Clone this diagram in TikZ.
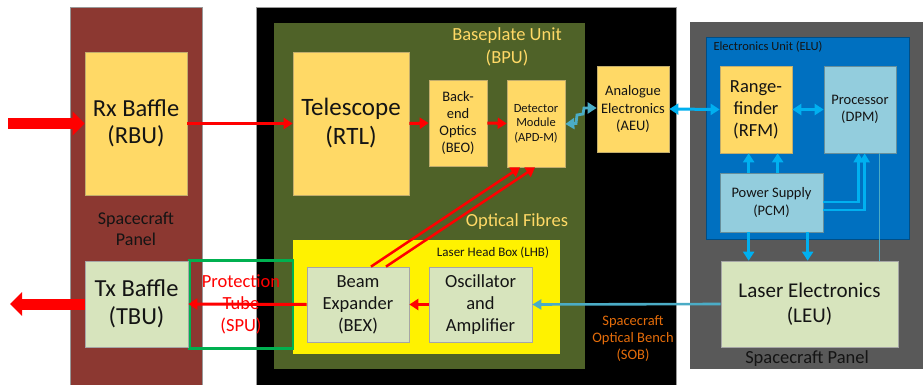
\documentclass[tikz,border=0pt]{standalone}
\usepackage{fontspec}
\setmainfont{Carlito}
\usetikzlibrary{arrows.meta,calc}
\definecolor{maroon}{RGB}{140,56,49}
\definecolor{olive}{RGB}{79,98,40}
\definecolor{gold}{RGB}{255,217,102}
\definecolor{lgreen}{RGB}{215,228,189}
\definecolor{lblue}{RGB}{147,205,221}
\definecolor{panelgray}{RGB}{89,89,89}
\definecolor{elublue}{RGB}{0,112,192}
\definecolor{sky}{RGB}{0,176,240}
\definecolor{teal}{RGB}{75,172,198}
\definecolor{orng}{RGB}{228,108,10}
\definecolor{grn}{RGB}{0,176,80}
\definecolor{txt}{RGB}{20,20,20}
\newcommand{\fs}[2]{\fontsize{#1}{#2}\selectfont}
\begin{document}
\begin{tikzpicture}[x=1pt,y=-1pt,
  box/.style={line width=0.7pt, align=center, inner sep=1pt, text=txt},
  gbox/.style={box, fill=gold, draw=gold!70!black!80},
  lbox/.style={box, fill=lgreen, draw=black!35},
  bbox/.style={box, fill=lblue, draw=lblue!70!black},
  redarr/.style={red, line width=3pt, -{Triangle[length=9pt,width=11pt]}},
  bigarr/.style={red, line width=11pt, -{Triangle[length=12pt,width=23pt]}},
  bluearr/.style={sky, line width=3pt, -{Triangle[length=9pt,width=11pt]}},
  dblarr/.style={sky, line width=3pt, {Triangle[length=9pt,width=11pt]}-{Triangle[length=9pt,width=11pt]}},
  lbl/.style={align=center, inner sep=0pt}]
\useasboundingbox (0,0) rectangle (923,385);
\fill[white] (0,0) rectangle (923,385);
% panels
\fill[maroon, draw=black!40, line width=0.6pt] (70,7) rectangle (202,386);
\fill[black, draw=black!40, line width=0.6pt] (256,7) rectangle (676,386);
\fill[olive] (274,23) rectangle (585,369);
\fill[yellow] (293,240) rectangle (560,354);
\fill[panelgray] (690,22) rectangle (923,369);
\fill[elublue, draw=elublue!70!black, line width=0.6pt] (706,37) rectangle (909,239);
% labels on panels
\node[lbl, text=txt, font=\fs{18}{21}] (scpl) at (136,229) {Spacecraft\\Panel};
\node[lbl, text=gold, font=\fs{18.5}{23}] (bpul) at (507,46.5) {Baseplate Unit\\(BPU)};
\node[lbl, text=gold, font=\fs{18.5}{22}] (ofl) at (517,222) {Optical Fibres};
\node[lbl, text=txt, font=\fs{13}{15}] (lhbl) at (493,253) {Laser Head Box (LHB)};
\node[lbl, text=orng, font=\fs{14.5}{17}] (sobl) at (633,339) {Spacecraft\\Optical Bench\\(SOB)};
\node[lbl, text=txt, font=\fs{12.5}{14}] (elul) at (768,47) {Electronics Unit (ELU)};
\node[lbl, text=txt, font=\fs{18.5}{22}] (scpr) at (807,359) {Spacecraft Panel};
\node[lbl, text=red, font=\fs{18.5}{22}] (spul) at (241,304) {Protection\\Tube\\(SPU)};
\draw[grn, line width=2.6pt] (189.5,260.5) rectangle (293,348.5);
% boxes
\node[gbox, minimum width=102, minimum height=143, font=\fs{24.5}{27}] (rbu) at (136,123.5) {Rx Baffle\\(RBU)};
\node[lbox, minimum width=103, minimum height=86, font=\fs{24.5}{28}] (tbu) at (136.5,304) {Tx Baffle\\(TBU)};
\node[gbox, minimum width=116, minimum height=143, font=\fs{25}{29}] (rtl) at (351,123.5) {Telescope\\(RTL)};
\node[gbox, minimum width=58, minimum height=86, font=\fs{14.5}{17}] (beo) at (458,123) {Back-\\end\\Optics\\(BEO)};
\node[gbox, minimum width=58, minimum height=87, font=\fs{12.5}{14.5}] (apd) at (536,123.5) {Detector\\Module\\(APD-M)};
\node[gbox, minimum width=72, minimum height=86, font=\fs{14.5}{17.5}] (aeu) at (633,109) {Analogue\\Electronics\\(AEU)};
\node[lbox, minimum width=102, minimum height=75, font=\fs{18.5}{22}] (bex) at (358,304.5) {Beam\\Expander\\(BEX)};
\node[lbox, minimum width=103, minimum height=75, font=\fs{18.5}{22}] (osc) at (480.5,304.5) {Oscillator\\and\\Amplifier};
\node[gbox, minimum width=72, minimum height=87, font=\fs{18.5}{22}] (rfm) at (756,109.5) {Range-\\finder\\(RFM)};
\node[bbox, minimum width=72, minimum height=87, font=\fs{14.5}{17.5}] (dpm) at (860,109.5) {Processor\\(DPM)};
\node[bbox, minimum width=103, minimum height=59, font=\fs{14.5}{17.5}] (pcm) at (771.5,202.5) {Power Supply\\(PCM)};
\node[lbox, minimum width=177, minimum height=86, font=\fs{21}{25}] (leu) at (809.5,304) {Laser Electronics\\(LEU)};
% free ends
\coordinate (inS) at (8,123.5);
\coordinate (outE) at (10,304);
% big arrows
\draw[bigarr] (inS) -- (rbu.west);
\draw[bigarr] (tbu.west) -- (outE);
% red optical path
\draw[redarr] (rbu.east) -- (rtl.west);
\draw[redarr] (rtl.east) -- (beo.west);
\draw[redarr] (beo.east) -- (apd.west);
\draw[redarr] (osc.west) -- (bex.east);
\draw[redarr] (bex.west) -- (tbu.east);
\draw[redarr, line width=2.5pt] ([xshift=13pt]bex.north) -- ([xshift=-16pt]apd.south);
\draw[redarr, line width=2.5pt] ([xshift=28pt]bex.north) -- ([xshift=-1pt]apd.south);
% zigzag APD <-> AEU
\draw[teal, line width=2.8pt, {Triangle[length=9pt,width=11pt]}-{Triangle[length=9pt,width=11pt]}]
  ($(apd.east)+(0,0.5)$) -- (576,123.5) -- (577,115) -- (583,114) -- (584,108) -- ($(aeu.west)+(0,-1)$);
% electronics
\draw[dblarr] (aeu.east) -- (rfm.west);
\draw[dblarr] (rfm.east) -- (dpm.west);
\draw[bluearr] ($(pcm.north west)+(29,0)$) -- ($(rfm.south west)+(29,0)$);
\draw[bluearr] ($(pcm.north west)+(58,0)$) -- ($(rfm.south west)+(58,0)$);
\draw[bluearr] ($(pcm.south west)+(29,0)$) -- ($(leu.north west)+(28,0)$);
\draw[bluearr] ($(pcm.south west)+(88,0)$) -- ($(leu.north west)+(87,0)$);
\draw[sky, line width=2.4pt, -{Triangle[length=9pt,width=10pt]}] ($(pcm.east)+(0,-0.5)$) -| ($(dpm.south west)+(35,0)$);
\draw[sky, line width=2.4pt, -{Triangle[length=9pt,width=10pt]}] ($(pcm.east)+(0,7.5)$) -| ($(dpm.south west)+(41,0)$);
\draw[teal, line width=1.3pt] ($(dpm.south west)+(56,0)$) -- ($(leu.north west)+(159,0)$);
\draw[teal, line width=2.6pt, -{Triangle[length=9pt,width=10pt]}] (leu.west) -- (osc.east);
\end{tikzpicture}
\end{document}
